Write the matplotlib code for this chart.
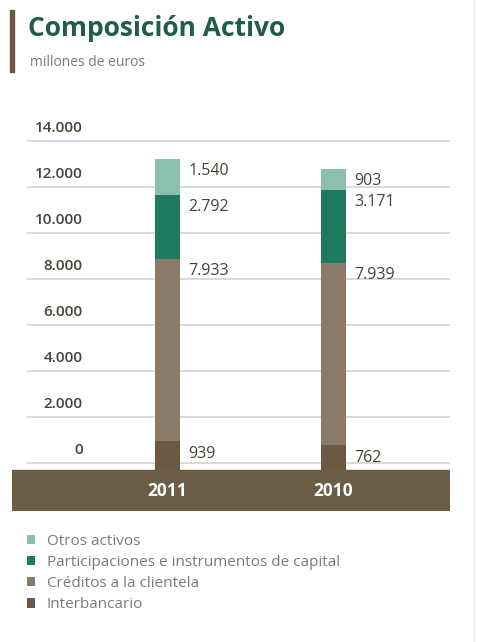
import numpy as np
import matplotlib.pyplot as plt
from matplotlib.patches import Rectangle
import matplotlib.transforms as mtransforms

years = ['2011', '2010']
series = ['Interbancario', 'Créditos a la clientela',
          'Participaciones e instrumentos de capital', 'Otros activos']
interbancario = [939, 762]
creditos = [7933, 7939]
participaciones = [2792, 3171]
otros = [1540, 903]
yticks = [0, 2000, 4000, 6000, 8000, 10000, 12000, 14000]

colors = ['#6a5843', '#8b7a67', '#1d7a5f', '#8dbfae']
band_color = '#6c5b45'
text_dark = '#4a4236'
text_gray = '#7a7a7a'

W, H = 478, 642
fig = plt.figure(figsize=(W / 100, H / 100), dpi=100)
plt.rcParams['font.family'] = ['Open Sans', 'DejaVu Sans']


def fx(px):
    return px / W


def fy(px):
    return 1 - px / H


# title block
fig.patches.append(Rectangle((fx(10), fy(72)), fx(4), (62) / H,
                             transform=fig.transFigure, color='#6a5843'))
fig.text(fx(28), fy(28), 'Composición Activo', fontsize=19, fontweight='bold',
         color='#1f5c4c', va='center', ha='left')
fig.text(fx(30), fy(63), 'millones de euros', fontsize=10,
         color=text_gray, va='center', ha='left')

# axes region in pixels
ax_left, ax_right, ax_top, ax_bottom = 12, 450, 130, 511
ax = fig.add_axes([fx(ax_left), fy(ax_bottom), (ax_right - ax_left) / W,
                   (ax_bottom - ax_top) / H])
upp = 2000 / 46.0  # units per pixel
zero_px = 463
ax.set_ylim(-(ax_bottom - zero_px) * upp, (zero_px - ax_top) * upp)
x = np.arange(len(years))
ax.set_xlim(-(167 - ax_left) / 166, (ax_right - 167) / 166)
for s in ax.spines.values():
    s.set_visible(False)
ax.set_xticks([])
ax.set_yticks([])

band_top = -7 * upp
ax.axhspan(ax.get_ylim()[0], band_top, color=band_color, zorder=1)

# gridlines and tick labels
gx0 = (28 - ax_left) / (ax_right - ax_left)
for t in yticks:
    ax.axhline(t, xmin=gx0, xmax=1, color='#d6d3cc', lw=1.2, zorder=0)
    ax.annotate(f'{t:,}'.replace(',', '.'), xy=((83 - ax_left) / (ax_right - ax_left), t),
                xycoords=mtransforms.blended_transform_factory(ax.transAxes, ax.transData),
                xytext=(0, 4), textcoords='offset points', ha='right', va='bottom',
                fontsize=11, fontweight='semibold', color=text_dark)

width = 25 / 166
data = [interbancario, creditos, participaciones, otros]
bottom = np.zeros(len(years))
handles = []
for vals, c, name in zip(data, colors, series):
    b = ax.bar(x, vals, width, bottom=bottom, color=c, label=name, zorder=2)
    handles.append(b)
    for xi, v, bt in zip(x, vals, bottom):
        ax.annotate(f'{v:,}'.replace(',', '.'), xy=(xi + width / 2, bt + v),
                    xytext=(6.5, -3), textcoords='offset points', ha='left', va='top',
                    fontsize=11.5, color=text_dark)
    bottom = bottom + np.array(vals)

# stems joining bars to the base band
ax.bar(x, -band_top, width, bottom=band_top, color=colors[0], zorder=2)

for xi, yr in zip(x, years):
    ax.text(xi, (ax.get_ylim()[0] + band_top) / 2, yr, ha='center', va='center',
            fontsize=12.5, fontweight='bold', color='white', zorder=3)

leg = fig.legend(handles[::-1], series[::-1], loc='upper left',
                 bbox_to_anchor=(fx(27), fy(534)), frameon=False,
                 handlelength=0.55, handleheight=0.55, handletextpad=0.75,
                 labelspacing=0.4, fontsize=11, labelcolor=text_gray,
                 borderaxespad=0, borderpad=0)

fig.add_artist(plt.Line2D([fx(474), fx(474)], [0, 1], color='#eeeeee', lw=1))

fig.savefig('out.png', dpi=100, facecolor='white')
